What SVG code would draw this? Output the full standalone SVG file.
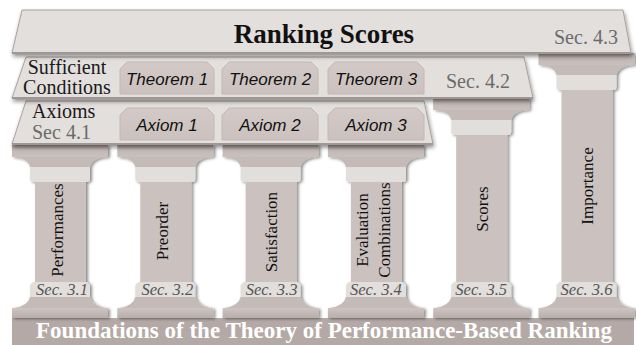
<svg xmlns="http://www.w3.org/2000/svg" width="636" height="345" viewBox="0 0 636 345">
<defs>
  <linearGradient id="gAbacus" x1="0" y1="0" x2="0" y2="1">
    <stop offset="0" stop-color="#a39996"/>
    <stop offset="0.35" stop-color="#c3b9b6"/>
    <stop offset="1" stop-color="#c9c0bd"/>
  </linearGradient>
  <linearGradient id="gPlinth" x1="0" y1="0" x2="0" y2="1">
    <stop offset="0" stop-color="#cec5c2"/>
    <stop offset="1" stop-color="#b7adaa"/>
  </linearGradient>
  <linearGradient id="gBox" x1="0" y1="0" x2="0" y2="1">
    <stop offset="0" stop-color="#d3cac7"/>
    <stop offset="1" stop-color="#cbc1be"/>
  </linearGradient>
  <filter id="colShadow" x="-20%" y="-10%" width="140%" height="120%">
    <feDropShadow dx="2" dy="1" stdDeviation="1.5" flood-color="#000" flood-opacity="0.45"/>
  </filter>
  <filter id="slabShadow" x="-5%" y="-20%" width="110%" height="150%">
    <feDropShadow dx="1" dy="3" stdDeviation="2" flood-color="#000" flood-opacity="0.45"/>
  </filter>
</defs>
<style>
  .slab { fill:#e3dfdd; stroke:#aaa09d; stroke-width:1; }
  .shaft { fill:#cbc2bf; }
  .neck { fill:#e2dedc; }
  .cove { fill:#c4bab7; }
  .abacus { fill:url(#gAbacus); }
  .plinth { fill:url(#gPlinth); }
  .box { fill:url(#gBox); stroke:#c2b8b5; stroke-width:1; }
  .ctext { font-family:"Liberation Serif","Times New Roman",serif; font-size:17px; fill:#111; text-anchor:middle; }
  .sec3 { font-family:"Liberation Serif","Times New Roman",serif; font-size:16.5px; font-style:italic; fill:#555; text-anchor:middle; }
  .sec4 { font-family:"Liberation Serif","Times New Roman",serif; font-size:20px; fill:#6b6b6b; }
  .slabtext { font-family:"Liberation Serif","Times New Roman",serif; font-size:20px; fill:#1a1a1a; }
  .boxtext { font-family:"Liberation Sans",Arial,sans-serif; font-size:17px; font-style:italic; fill:#111; text-anchor:middle; }
</style>

<rect id="foundation-bar" x="12" y="318" width="622" height="27" fill="#b4a9a6"/>

<g id="col-performances">
  <g filter="url(#colShadow)">
    <rect class="shaft" x="35" y="182" width="51" height="100"/>
    <path class="neck" d="M30,167 H90 V179 Q90,182 87,182 H33 Q30,182 30,179 Z"/>
    <path class="cove" d="M13,157 H107 Q92,158 90,167 H30 Q28,158 13,157 Z"/>
    <rect class="abacus" x="12" y="145" width="96" height="12"/>
    <path class="neck" d="M30,297 V285 L33,282 H87 L90,285 V297 Z"/>
    <path class="cove" d="M30,297 H90 Q92,306 106,308 H14 Q28,306 30,297 Z"/>
    <rect class="plinth" x="12" y="308" width="96" height="10"/>
  </g>
  <text class="ctext" transform="rotate(-90 63 230)" x="63" y="230">Performances</text>
  <text class="sec3" x="62" y="295">Sec. 3.1</text>
</g>

<g id="col-preorder" transform="translate(105.3 0)">
  <g filter="url(#colShadow)">
    <rect class="shaft" x="35" y="182" width="51" height="100"/>
    <path class="neck" d="M30,167 H90 V179 Q90,182 87,182 H33 Q30,182 30,179 Z"/>
    <path class="cove" d="M13,157 H107 Q92,158 90,167 H30 Q28,158 13,157 Z"/>
    <rect class="abacus" x="12" y="145" width="96" height="12"/>
    <path class="neck" d="M30,297 V285 L33,282 H87 L90,285 V297 Z"/>
    <path class="cove" d="M30,297 H90 Q92,306 106,308 H14 Q28,306 30,297 Z"/>
    <rect class="plinth" x="12" y="308" width="96" height="10"/>
  </g>
  <text class="ctext" transform="rotate(-90 63 231)" x="63" y="231">Preorder</text>
  <text class="sec3" x="62" y="295">Sec. 3.2</text>
</g>

<g id="col-satisfaction" transform="translate(210.6 0)">
  <g filter="url(#colShadow)">
    <rect class="shaft" x="35" y="182" width="51" height="100"/>
    <path class="neck" d="M30,167 H90 V179 Q90,182 87,182 H33 Q30,182 30,179 Z"/>
    <path class="cove" d="M13,157 H107 Q92,158 90,167 H30 Q28,158 13,157 Z"/>
    <rect class="abacus" x="12" y="145" width="96" height="12"/>
    <path class="neck" d="M30,297 V285 L33,282 H87 L90,285 V297 Z"/>
    <path class="cove" d="M30,297 H90 Q92,306 106,308 H14 Q28,306 30,297 Z"/>
    <rect class="plinth" x="12" y="308" width="96" height="10"/>
  </g>
  <text class="ctext" transform="rotate(-90 66 232)" x="66" y="232">Satisfaction</text>
  <text class="sec3" x="61" y="295">Sec. 3.3</text>
</g>

<g id="col-evaluation-combinations" transform="translate(315.9 0)">
  <g filter="url(#colShadow)">
    <rect class="shaft" x="35" y="182" width="51" height="100"/>
    <path class="neck" d="M30,167 H90 V179 Q90,182 87,182 H33 Q30,182 30,179 Z"/>
    <path class="cove" d="M13,157 H107 Q92,158 90,167 H30 Q28,158 13,157 Z"/>
    <rect class="abacus" x="12" y="145" width="96" height="12"/>
    <path class="neck" d="M30,297 V285 L33,282 H87 L90,285 V297 Z"/>
    <path class="cove" d="M30,297 H90 Q92,306 106,308 H14 Q28,306 30,297 Z"/>
    <rect class="plinth" x="12" y="308" width="96" height="10"/>
  </g>
  <text class="ctext" transform="rotate(-90 52 230)" x="52" y="230">Evaluation</text>
  <text class="ctext" transform="rotate(-90 74 230)" x="74" y="230">Combinations</text>
  <text class="sec3" x="60" y="295">Sec. 3.4</text>
</g>

<g id="col-scores" transform="translate(421.2 0)">
  <g filter="url(#colShadow)">
    <rect class="shaft" x="35" y="135" width="51" height="147"/>
    <path class="neck" d="M30,120 H90 V132 Q90,135 87,135 H33 Q30,135 30,132 Z"/>
    <path class="cove" d="M13,110 H107 Q92,111 90,120 H30 Q28,111 13,110 Z"/>
    <rect class="abacus" x="12" y="98" width="96" height="12"/>
    <path class="neck" d="M30,297 V285 L33,282 H87 L90,285 V297 Z"/>
    <path class="cove" d="M30,297 H90 Q92,306 106,308 H14 Q28,306 30,297 Z"/>
    <rect class="plinth" x="12" y="308" width="96" height="10"/>
  </g>
  <text class="ctext" transform="rotate(-90 67 209)" x="67" y="209">Scores</text>
  <text class="sec3" x="60" y="295">Sec. 3.5</text>
</g>

<g id="col-importance" transform="translate(526.5 0)">
  <g filter="url(#colShadow)">
    <rect class="shaft" x="35" y="90" width="51" height="192"/>
    <path class="neck" d="M30,75 H90 V87 Q90,90 87,90 H33 Q30,90 30,87 Z"/>
    <path class="cove" d="M13,65 H107 Q92,66 90,75 H30 Q28,66 13,65 Z"/>
    <rect class="abacus" x="12" y="53" width="96" height="12"/>
    <path class="neck" d="M30,297 V285 L33,282 H87 L90,285 V297 Z"/>
    <path class="cove" d="M30,297 H90 Q92,306 106,308 H14 Q28,306 30,297 Z"/>
    <rect class="plinth" x="12" y="308" width="96" height="10"/>
  </g>
  <text class="ctext" transform="rotate(-90 66 186)" x="66" y="186">Importance</text>
  <text class="sec3" x="60" y="295">Sec. 3.6</text>
</g>

<text id="foundation-label" x="324" y="338" text-anchor="middle" font-family="'Liberation Serif','Times New Roman',serif" font-size="23" font-weight="bold" fill="#ffffff">Foundations of the Theory of Performance-Based Ranking</text>

<g id="slab-axioms">
  <polygon class="slab" filter="url(#slabShadow)" points="26,101 424,101 433,144 12,144"/>
  <line x1="12" y1="144" x2="433" y2="144" stroke="#a09693" stroke-width="2"/>
  <text class="slabtext" x="32" y="118" font-size="19.5">Axioms</text>
  <text class="sec4" x="32" y="139" font-size="19.5">Sec 4.1</text>
  <g id="axiom-1">
    <path class="box" d="M120,140 V115 L127,108 H207 L214,115 V140 Z"/>
    <text class="boxtext" x="167" y="131">Axiom 1</text>
  </g>
  <g id="axiom-2">
    <path class="box" d="M222,140 V115 L229,108 H311 L318,115 V140 Z"/>
    <text class="boxtext" x="270" y="131">Axiom 2</text>
  </g>
  <g id="axiom-3">
    <path class="box" d="M328,140 V115 L335,108 H417 L424,115 V140 Z"/>
    <text class="boxtext" x="376" y="131">Axiom 3</text>
  </g>
</g>

<g id="slab-sufficient-conditions">
  <polygon class="slab" filter="url(#slabShadow)" points="26,57 524,57 533,98 12,98"/>
  <line x1="12" y1="98" x2="533" y2="98" stroke="#a09693" stroke-width="2"/>
  <text class="slabtext" x="67" y="73.5" text-anchor="middle">Sufficient</text>
  <text class="slabtext" x="67" y="94" text-anchor="middle">Conditions</text>
  <text class="sec4" x="446" y="88">Sec. 4.2</text>
  <g id="theorem-1">
    <path class="box" d="M120,94 V69 L127,62 H207 L214,69 V94 Z"/>
    <text class="boxtext" x="167" y="85">Theorem 1</text>
  </g>
  <g id="theorem-2">
    <path class="box" d="M222,94 V69 L229,62 H311 L318,69 V94 Z"/>
    <text class="boxtext" x="270" y="85">Theorem 2</text>
  </g>
  <g id="theorem-3">
    <path class="box" d="M328,94 V69 L335,62 H417 L424,69 V94 Z"/>
    <text class="boxtext" x="376" y="85">Theorem 3</text>
  </g>
</g>

<g id="slab-ranking-scores">
  <polygon class="slab" filter="url(#slabShadow)" points="22,10 623,10 631,53 12,53"/>
  <line x1="12" y1="53" x2="631" y2="53" stroke="#a09693" stroke-width="2"/>
  <text x="324" y="43" text-anchor="middle" font-family="'Liberation Serif','Times New Roman',serif" font-size="27" font-weight="bold" fill="#111">Ranking Scores</text>
  <text class="sec4" x="554" y="44">Sec. 4.3</text>
</g>
</svg>
